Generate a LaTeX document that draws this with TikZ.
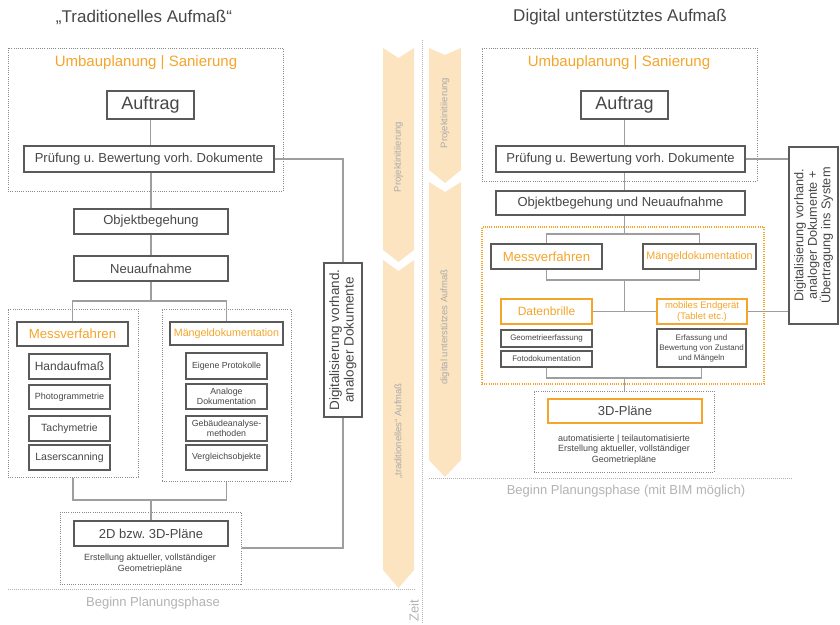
\documentclass[tikz,border=0pt]{standalone}
\usepackage{fontspec}
\setmainfont{Liberation Sans}
\usetikzlibrary{calc}
\frenchspacing
\definecolor{orangeC}{HTML}{F5A52A}
\definecolor{bandC}{HTML}{FCE4C0}
\definecolor{boxC}{HTML}{5A5A5A}
\definecolor{textC}{HTML}{474747}
\definecolor{lineC}{HTML}{9E9E9E}
\definecolor{lightC}{HTML}{B2B2B2}
\definecolor{dotC}{HTML}{8A8A8A}
\definecolor{bandtxtC}{HTML}{AAAAAA}
\newcommand\setfs[2]{\fontsize{#1pt}{#2pt}\selectfont}
\begin{document}
\begin{tikzpicture}[x=1pt,y=-1pt,
  box/.style={draw=boxC, line width=1.3pt, inner sep=0pt, text=textC, align=center, fill=white},
  obox/.style={box, draw=orangeC},
  frame/.style={draw=dotC, line width=1pt, dash pattern=on 1pt off 1.2pt, inner sep=0pt},
  oframe/.style={frame, draw=orangeC, line width=1.6pt},
  conn/.style={draw=lineC, line width=1.2pt},
  band/.style={fill=bandC, draw=none},
  bandtxt/.style={text=bandtxtC, rotate=90, inner sep=0pt, font=\setfs{9.5}{11}},
  sep/.style={draw=lightC, line width=1pt, dash pattern=on 1pt off 1pt},
  otext/.style={text=orangeC, inner sep=0pt},
  ttext/.style={text=textC, inner sep=0pt, align=center}
]
\useasboundingbox (0,0) rectangle (840,624);

% ---------- time bands ----------
\fill[band] (383,48) -- (398.5,58) -- (414,48) -- (414,250) -- (398.5,262) -- (383,250) -- cycle;
\fill[band] (383,260) -- (398.5,271) -- (414,260) -- (414,570) -- (398.5,588) -- (383,570) -- cycle;
\fill[band] (429,48) -- (445,55) -- (461,48) -- (461,170) -- (445,183) -- (429,170) -- cycle;
\fill[band] (429,182) -- (445,192) -- (461,182) -- (461,460) -- (445,477) -- (429,460) -- cycle;
\node[bandtxt] (bl1) at (398.5,157) {Projektinitiierung};
\node[bandtxt] (bl2) at (398.5,431) {„traditionelles“ Aufmaß};
\node[bandtxt] (br1) at (445,113) {Projektinitiierung};
\node[bandtxt] (br2) at (445,327) {digital unterstützes Aufmaß};

% ---------- separators ----------
\draw[sep] (422,40) -- (422,624);
\draw[sep] (8,589) -- (415,589);
\draw[sep] (429,478) -- (793,478);
\node[text=lightC, inner sep=0pt, font=\setfs{13}{15}] (lbeg) at (153,603) {Beginn Planungsphase};
\node[text=lightC, inner sep=0pt, font=\setfs{13}{15}] (rbeg) at (626,491) {Beginn Planungsphase (mit BIM möglich)};
\node[text=lightC, inner sep=0pt, rotate=90, font=\setfs{13}{15}] (zeit) at (414,611) {Zeit};

% ---------- titles ----------
\node[text=textC, font=\setfs{17}{20}] (ltitle) at (144,17) {„Traditionelles Aufmaß“};
\node[text=textC, font=\setfs{17}{20}] (rtitle) at (620,17) {Digital unterstütztes Aufmaß};

% ================= LEFT =================
\node[frame, minimum width=275pt, minimum height=143pt] (lfr1) at (145.5,119.5) {};
\node[otext, font=\setfs{15}{18}] (lumb) at (146,63) {Umbauplanung | Sanierung};
\node[box, minimum width=87pt, minimum height=28pt, font=\setfs{18}{21}] (lauf) at (150.5,105) {Auftrag};
\node[box, minimum width=250pt, minimum height=26pt, font=\setfs{13}{15}] (lpruf) at (149,159) {Prüfung u. Bewertung vorh. Dokumente};
\node[box, minimum width=154pt, minimum height=25pt, font=\setfs{13}{15}] (lobj) at (151,221.5) {Objektbegehung};
\node[box, minimum width=154pt, minimum height=25pt, font=\setfs{13}{15}] (lneu) at (151,268.5) {Neuaufnahme};

\node[frame, minimum width=130pt, minimum height=168pt] (lmessfr) at (73,393) {};
\node[box, minimum width=111pt, minimum height=24pt, text=orangeC, font=\setfs{13.2}{15}] (lmess) at (72.5,334) {Messverfahren};
\node[box, minimum width=81pt, minimum height=25pt, font=\setfs{12}{14}] (lhand) at (69.5,366.5) {Handaufmaß};
\node[box, minimum width=81pt, minimum height=24pt, font=\setfs{9}{11}] (lphoto) at (69.5,397) {Photogrammetrie};
\node[box, minimum width=81pt, minimum height=25pt, font=\setfs{10.5}{12}] (ltachy) at (69.5,428.5) {Tachymetrie};
\node[box, minimum width=81pt, minimum height=25pt, font=\setfs{10.5}{12}] (llaser) at (69.5,457.5) {Laserscanning};

\node[frame, minimum width=129pt, minimum height=172pt] (lmaengfr) at (226.5,395) {};
\node[box, minimum width=113pt, minimum height=23pt, text=orangeC, font=\setfs{10.7}{13}] (lmaeng) at (226.5,333.5) {Mängeldokumentation};
\node[box, minimum width=81pt, minimum height=26pt, font=\setfs{8.8}{10.5}] (leigen) at (226.5,366) {Eigene Protokolle};
\node[box, minimum width=81pt, minimum height=25pt, font=\setfs{8.8}{10.5}] (lanalog) at (226.5,396.5) {Analoge\\Dokumentation};
\node[box, minimum width=81pt, minimum height=25pt, font=\setfs{8.8}{10.5}] (lgeb) at (226.5,428.5) {Gebäudeanalyse-\\methoden};
\node[box, minimum width=81pt, minimum height=25pt, font=\setfs{8.8}{10.5}] (lvergl) at (226.5,457.5) {Vergleichsobjekte};

\node[frame, minimum width=181pt, minimum height=72pt] (l2dfr) at (150.5,548) {};
\node[box, minimum width=154pt, minimum height=25pt, font=\setfs{13}{15}] (l2d) at (151,533.5) {2D bzw. 3D-Pläne};
\node[ttext, font=\setfs{9}{11}] (l2dtxt) at (150,564) {Erstellung aktueller, vollständiger\\Geometriepläne};

\node[box, rotate=90, minimum width=154pt, minimum height=38pt, font=\setfs{13.5}{14.5}] (ldig) at (343,340) {Digitalisierung vorhand.\\analoger Dokumente};

\coordinate (lsplit) at (151,301);
\coordinate (ljoin) at (151,500);
\draw[conn] (lauf.south) -- (lpruf.north -| lauf.south);
\draw[conn] (lpruf.south -| lobj.north) -- (lobj.north);
\draw[conn] (lobj.south) -- (lneu.north);
\draw[conn] (lneu.south) -- (lsplit);
\draw[conn] (lmess.north) |- (lsplit) -| (lmaeng.north);
\draw[conn] (lmessfr.south) |- (ljoin) -| (lmaengfr.south);
\draw[conn] (ljoin) -- (l2d.north);
\draw[conn] (lpruf.east) -| (ldig.east);
\draw[conn] (l2dfr.east) -| (ldig.west);

% ================= RIGHT =================
\node[frame, minimum width=275pt, minimum height=133pt] (rfr1) at (619.5,114.5) {};
\node[otext, font=\setfs{15}{18}] (rumb) at (619,63) {Umbauplanung | Sanierung};
\node[box, minimum width=87pt, minimum height=28pt, font=\setfs{18}{21}] (rauf) at (624.5,105) {Auftrag};
\node[box, minimum width=249pt, minimum height=26pt, font=\setfs{13}{15}] (rpruf) at (620.5,159) {Prüfung u. Bewertung vorh. Dokumente};
\node[box, minimum width=249pt, minimum height=24pt, font=\setfs{13}{15}] (robj) at (620.5,203) {Objektbegehung und Neuaufnahme};

\node[oframe, minimum width=282pt, minimum height=157pt] (rorfr) at (623,305.5) {};
\node[box, minimum width=111pt, minimum height=25pt, text=orangeC, font=\setfs{13.2}{15}] (rmess) at (546.5,256.5) {Messverfahren};
\node[box, minimum width=113pt, minimum height=25pt, text=orangeC, font=\setfs{10.8}{13}] (rmaeng) at (699.5,256.5) {Mängeldokumentation};
\node[obox, minimum width=91pt, minimum height=25pt, text=orangeC, font=\setfs{12}{14}] (rdaten) at (546.5,311.5) {Datenbrille};
\node[obox, minimum width=90pt, minimum height=25pt, text=orangeC, font=\setfs{9.5}{11}] (rmobil) at (702,311.5) {mobiles Endgerät\\(Tablet etc.)};
\node[box, minimum width=91pt, minimum height=17pt, font=\setfs{8}{10}] (rgeo) at (546.5,338.5) {Geometrieerfassung};
\node[box, minimum width=91pt, minimum height=16pt, font=\setfs{8}{10}] (rfoto) at (546.5,359) {Fotodokumentation};
\node[box, minimum width=89pt, minimum height=38pt, font=\setfs{8}{10}] (rerf) at (701.5,348) {Erfassung und\\Bewertung von Zustand\\und Mängeln};

\node[frame, minimum width=180pt, minimum height=81pt] (r3dfr) at (624,431.5) {};
\node[obox, minimum width=154pt, minimum height=24pt, font=\setfs{13}{15}] (r3d) at (625,411) {3D-Pläne};
\node[ttext, font=\setfs{9}{10.5}] (r3dtxt) at (624,449.5) {automatisierte | teilautomatisierte\\Erstellung aktueller, vollständiger\\Geometriepläne};

\node[box, rotate=90, minimum width=177pt, minimum height=49pt, font=\setfs{12.7}{13.5}] (rdig) at (813.5,235.5) {Digitalisierung vorhand.\\analoger Dokumente +\\Übertragung ins System};

\coordinate (rsplit) at (624.5,234);
\coordinate (rjoin1) at (624.5,280);
\coordinate (rmid) at (624.5,311.5);
\coordinate (rjoin2) at (624.5,378);
\draw[conn] (rauf.south) -- (rpruf.north -| rauf.south);
\draw[conn] (rpruf.south -| rsplit) -- (robj.north -| rsplit);
\draw[conn] (robj.south -| rsplit) -- (rsplit);
\draw[conn] (rmess.north) |- (rsplit) -| (rmaeng.north);
\draw[conn] (rmess.south) |- (rjoin1) -| (rmaeng.south);
\draw[conn] (rjoin1) -- (rmid);
\draw[conn] (rdaten.east) -- (rmobil.west);
\draw[conn] (rfoto.south) |- (rjoin2) -| (rerf.south);
\draw[conn] (rjoin2) -- (r3dfr.north -| rjoin2);
\draw[conn] (rpruf.east) -- (rpruf.east -| rdig.north);
\draw[conn] (rmobil.east) -- (rmobil.east -| rdig.north);
\end{tikzpicture}
\end{document}
